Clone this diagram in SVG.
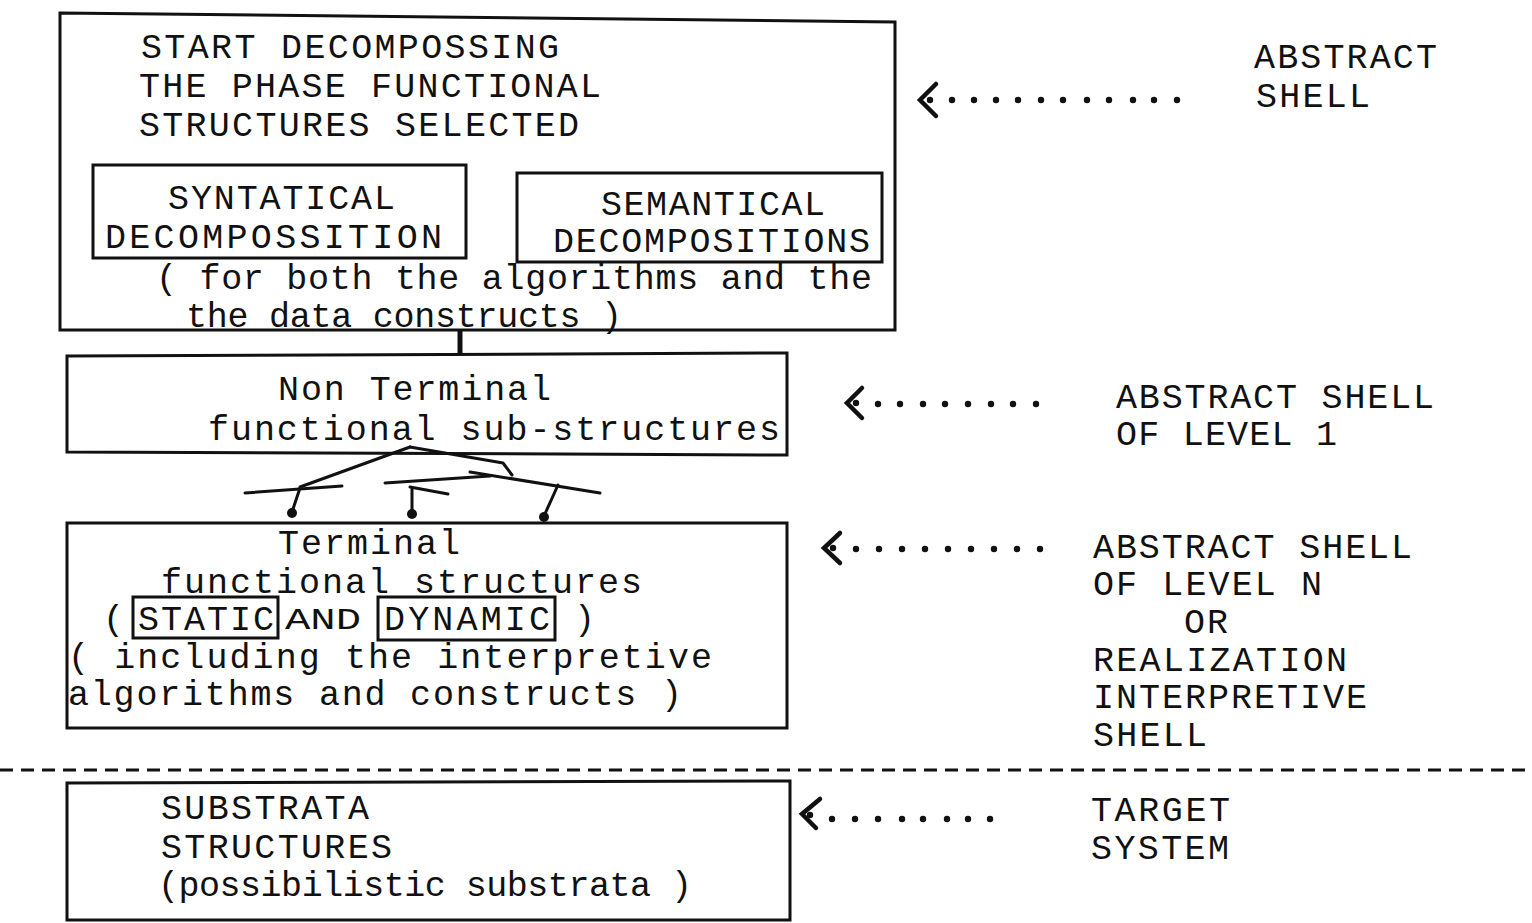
<svg xmlns="http://www.w3.org/2000/svg" width="1532" height="923" viewBox="0 0 1532 923">
  <style>
    .t { font-family: "Liberation Mono", "DejaVu Sans Mono", monospace; font-size: 35px; fill: #111; }
    .s { font-family: "Liberation Mono", "DejaVu Sans Mono", monospace; font-size: 30px; fill: #111; }
    .box { fill: none; stroke: #111; stroke-width: 3; stroke-linejoin: miter; }
    .ln { fill: none; stroke: #111; stroke-width: 3; stroke-linecap: round; stroke-linejoin: round; }
    .chev { fill: none; stroke: #111; stroke-width: 4.5; stroke-linecap: round; stroke-linejoin: miter; }
    .dot { fill: #111; }
    .dash { stroke: #111; stroke-width: 3; stroke-dasharray: 13 8; }
  </style>
  <defs>
    <circle id="d" r="3.2" class="dot"/>
  </defs>
  <rect width="1532" height="923" fill="#fff"/>

  <!-- phase decomposition -->
  <g id="node-start">
    <path class="box" d="M60,13 L895,22 L895,330 L60,330 Z"/>
    <text class="t" x="141" y="58" textLength="418" lengthAdjust="spacing">START DECOMPOSSING</text>
    <text class="t" x="139" y="97" textLength="462" lengthAdjust="spacing">THE PHASE FUNCTIONAL</text>
    <text class="t" x="139" y="136" textLength="440" lengthAdjust="spacing">STRUCTURES SELECTED</text>
    <g id="node-syntactical">
      <rect class="box" x="93" y="165" width="373" height="93"/>
      <text class="t" x="168" y="209" textLength="227" lengthAdjust="spacing">SYNTATICAL</text>
      <text class="t" x="105" y="248" textLength="337" lengthAdjust="spacing">DECOMPOSSITION</text>
    </g>
    <g id="node-semantical">
      <rect class="box" x="517" y="173" width="365" height="89"/>
      <text class="t" x="601" y="215" textLength="224" lengthAdjust="spacing">SEMANTICAL</text>
      <text class="t" x="553" y="252" textLength="317" lengthAdjust="spacing">DECOMPOSITIONS</text>
    </g>
    <text class="t" x="156" y="289" textLength="716" lengthAdjust="spacing">( for both the algorithms and the</text>
    <text class="t" x="186" y="327" textLength="436" lengthAdjust="spacing">the data constructs )</text>
  </g>

  <g id="node-nonterminal">
    <path class="box" d="M67,356 L787,353 L787,455 L67,452 Z"/>
    <text class="t" x="278" y="400" textLength="273" lengthAdjust="spacing">Non Terminal</text>
    <text class="t" x="208" y="440" textLength="572" lengthAdjust="spacing">functional sub-structures</text>
  </g>

  <g id="node-terminal">
    <path class="box" d="M67,523 L787,523 L787,728 L67,728 Z"/>
    <text class="t" x="278" y="554" textLength="182" lengthAdjust="spacing">Terminal</text>
    <text class="t" x="161" y="593" textLength="481" lengthAdjust="spacing">functional structures</text>
    <text class="t" x="103" y="630">(</text>
    <rect class="box" x="133" y="597" width="145" height="41"/>
    <text class="t" x="138" y="630" textLength="136" lengthAdjust="spacing">STATIC</text>
    <text class="s" x="285" y="629" textLength="76" lengthAdjust="spacingAndGlyphs">AND</text>
    <rect class="box" x="378" y="597" width="177" height="43"/>
    <text class="t" x="384" y="630" textLength="166" lengthAdjust="spacing">DYNAMIC</text>
    <text class="t" x="574" y="630">)</text>
    <text class="t" x="68" y="668" textLength="644" lengthAdjust="spacing">( including the interpretive</text>
    <text class="t" x="68" y="705" textLength="614" lengthAdjust="spacing">algorithms and constructs )</text>
  </g>

  <g id="node-substrata">
    <path class="box" d="M67,783 L790,781 L790,920 L67,920 Z"/>
    <text class="t" x="161" y="819" textLength="208" lengthAdjust="spacing">SUBSTRATA</text>
    <text class="t" x="161" y="858" textLength="231" lengthAdjust="spacing">STRUCTURES</text>
    <text class="t" x="158" y="896" textLength="534" lengthAdjust="spacing">(possibilistic substrata )</text>
  </g>

  <!-- level labels -->
  <g id="label-abstract-shell">
    <text class="t" x="1254" y="68" textLength="183" lengthAdjust="spacing">ABSTRACT</text>
    <text class="t" x="1256" y="107" textLength="114" lengthAdjust="spacing">SHELL</text>
  </g>
  <g id="label-level-1">
    <text class="t" x="1116" y="408" textLength="318" lengthAdjust="spacing">ABSTRACT SHELL</text>
    <text class="t" x="1116" y="445" textLength="221" lengthAdjust="spacing">OF LEVEL 1</text>
  </g>
  <g id="label-level-n">
    <text class="t" x="1093" y="558" textLength="319" lengthAdjust="spacing">ABSTRACT SHELL</text>
    <text class="t" x="1093" y="595" textLength="229" lengthAdjust="spacing">OF LEVEL N</text>
    <text class="t" x="1184" y="633" textLength="44" lengthAdjust="spacing">OR</text>
    <text class="t" x="1093" y="671" textLength="254" lengthAdjust="spacing">REALIZATION</text>
    <text class="t" x="1093" y="708" textLength="274" lengthAdjust="spacing">INTERPRETIVE</text>
    <text class="t" x="1093" y="746" textLength="114" lengthAdjust="spacing">SHELL</text>
  </g>
  <g id="label-target">
    <text class="t" x="1091" y="821" textLength="139" lengthAdjust="spacing">TARGET</text>
    <text class="t" x="1091" y="859" textLength="138" lengthAdjust="spacing">SYSTEM</text>
  </g>

  <!-- connectors -->
  <g id="connectors">
    <line x1="460" y1="330" x2="460" y2="355" stroke="#111" stroke-width="5"/>

    <!-- branching tree between non-terminal and terminal structures -->
    <path class="ln" d="M410,447 L300,487"/>
    <path class="ln" d="M245,493 L342,486"/>
    <path class="ln" d="M300,488 L292,512"/>
    <circle cx="292" cy="513" r="5" class="dot"/>
    <path class="ln" d="M410,447 L503,463 L512,475"/>
    <path class="ln" d="M470,472 L600,493"/>
    <path class="ln" d="M385,483 L490,476"/>
    <path class="ln" d="M410,487 L448,494"/>
    <path class="ln" d="M412,489 L412,512"/>
    <circle cx="412" cy="514" r="5" class="dot"/>
    <path class="ln" d="M558,485 L544,516"/>
    <circle cx="544" cy="517" r="5" class="dot"/>

    <!-- level separator -->
    <line class="dash" x1="0" y1="770" x2="1526" y2="770"/>

    <!-- dotted pointers -->
    <g id="ptr-abstract">
      <path class="chev" d="M936,84 L920,100 L936,116"/>
      <use href="#d" x="930" y="100"/>
      <use href="#d" x="952" y="100"/><use href="#d" x="974" y="100"/><use href="#d" x="996" y="100"/>
      <use href="#d" x="1018" y="100"/><use href="#d" x="1041" y="100"/><use href="#d" x="1063" y="100"/>
      <use href="#d" x="1087" y="100"/><use href="#d" x="1109" y="100"/><use href="#d" x="1133" y="100"/>
      <use href="#d" x="1154" y="100"/><use href="#d" x="1177" y="100"/>
    </g>
    <g id="ptr-level-1">
      <path class="chev" d="M862,388 L847,403 L862,418"/>
      <use href="#d" x="856" y="403"/>
      <use href="#d" x="878" y="404"/><use href="#d" x="900" y="404"/><use href="#d" x="923" y="404"/>
      <use href="#d" x="945" y="404"/><use href="#d" x="968" y="404"/><use href="#d" x="991" y="404"/>
      <use href="#d" x="1013" y="404"/><use href="#d" x="1036" y="404"/>
    </g>
    <g id="ptr-level-n">
      <path class="chev" d="M840,533 L824,548 L840,563"/>
      <use href="#d" x="833" y="548"/>
      <use href="#d" x="856" y="549"/><use href="#d" x="879" y="549"/><use href="#d" x="902" y="549"/>
      <use href="#d" x="925" y="549"/><use href="#d" x="948" y="549"/><use href="#d" x="971" y="549"/>
      <use href="#d" x="994" y="549"/><use href="#d" x="1017" y="549"/><use href="#d" x="1040" y="549"/>
    </g>
    <g id="ptr-target">
      <path class="chev" d="M820,799 L802,814 L816,828"/>
      <use href="#d" x="810" y="815"/>
      <use href="#d" x="832" y="819"/><use href="#d" x="855" y="819"/><use href="#d" x="878" y="819"/>
      <use href="#d" x="902" y="819"/><use href="#d" x="923" y="819"/><use href="#d" x="947" y="819"/>
      <use href="#d" x="968" y="819"/><use href="#d" x="990" y="819"/>
    </g>
  </g>
</svg>
